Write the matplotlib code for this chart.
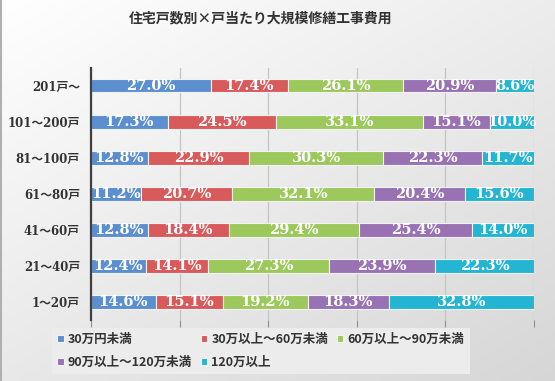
import numpy as np
import matplotlib
matplotlib.use("Agg")
from matplotlib import pyplot as plt

# dados
categorias = ["1〜20戸", "21〜40戸", "41〜60戸", "61〜80戸", "81〜100戸", "101〜200戸", "201戸〜"]
series = ["30万円未満", "30万以上〜60万未満", "60万以上〜90万未満", "90万以上〜120万未満", "120万以上"]
v_30 = [14.6, 12.4, 12.8, 11.2, 12.8, 17.3, 27.0]
v_30_60 = [15.1, 14.1, 18.4, 20.7, 22.9, 24.5, 17.4]
v_60_90 = [19.2, 27.3, 29.4, 32.1, 30.3, 33.1, 26.1]
v_90_120 = [18.3, 23.9, 25.4, 20.4, 22.3, 15.1, 20.9]
v_120 = [32.8, 22.3, 14.0, 15.6, 11.7, 10.0, 8.6]
titulo = "住宅戸数別×戸当たり大規模修繕工事費用"

cores = ["#5b8fcf", "#d95a5b", "#9cc85c", "#9872b3", "#23b5d2"]
valores = [v_30, v_30_60, v_60_90, v_90_120, v_120]

cjk = ["Noto Sans CJK JP", "DejaVu Sans"]
serif = ["DejaVu Serif", "Noto Sans CJK JP"]

fig = plt.figure(figsize=(5.55, 3.81), dpi=100)

# fundo com gradiente
bg = fig.add_axes([0, 0, 1, 1], zorder=-10)
yy, xx = np.mgrid[0:1:200j, 0:1:300j]
grad = 1.0 - 0.16 * (0.55 * yy + 0.45 * xx)
bg.imshow(np.dstack([grad, grad, grad]), aspect="auto", extent=[0, 1, 0, 1], origin="upper")
bg.axvline(0.001, color="#b0b0b0", lw=1.5)
bg.axis("off")

ax = fig.add_axes([0.164, 0.160, 0.798, 0.662])
ax.patch.set_alpha(0)
pos = np.arange(len(categorias))
esquerda = np.zeros(len(categorias))
barras = []
for nome, vals, cor in zip(series, valores, cores):
    vals = np.array(vals)
    b = ax.barh(pos, vals, left=esquerda, height=0.37, color=cor, edgecolor="#f2f2f2",
                linewidth=0.8, label=nome, zorder=3)
    barras.append(b)
    for p, l, v in zip(pos, esquerda, vals):
        ax.text(l + v / 2, p, f"{v:.1f}%", ha="center", va="center", color="white",
                fontsize=10.5, fontweight="bold", family=serif, zorder=4)
    esquerda += vals

ax.set_xlim(0, 100)
ax.set_ylim(-0.5, len(categorias) - 0.5)
ax.set_xticks([0, 20, 40, 60, 80, 100])
ax.set_xticklabels([])
ax.tick_params(axis="x", length=5, color="#909090", direction="out")
ax.tick_params(axis="y", length=0, pad=8)
ax.set_yticks(pos)
ax.set_yticklabels(categorias, family=serif, fontweight="bold", fontsize=8.5, color="#333333")
ax.grid(axis="x", color="#c4c4c4", lw=0.9, zorder=0)
for s in ["top", "bottom", "right"]:
    ax.spines[s].set_visible(False)
ax.spines["left"].set_color("#404040")
ax.spines["left"].set_linewidth(1.6)
ax.spines["left"].set_zorder(5)

fig.text(0.47, 0.952, titulo, ha="center", va="center", fontsize=10, fontweight="bold",
         family=cjk, color="#333333")

# legenda em ordem por linha
ordem = [0, 3, 1, 4, 2]
leg = fig.legend([barras[i] for i in ordem], [series[i] for i in ordem],
                 loc="center", bbox_to_anchor=(0.47, 0.079), ncol=3, frameon=True,
                 prop={"family": cjk, "weight": "bold", "size": 9},
                 handlelength=0.5, handleheight=0.5, handletextpad=0.35,
                 columnspacing=0.7, labelspacing=0.75, borderpad=0.45)
leg.get_frame().set_facecolor("#ececec")
leg.get_frame().set_edgecolor("none")
leg.get_frame().set_alpha(1)
leg.get_frame().set_boxstyle("square", pad=0)
for t in leg.get_texts():
    t.set_color("#333333")

fig.savefig("out.png", dpi=100)
